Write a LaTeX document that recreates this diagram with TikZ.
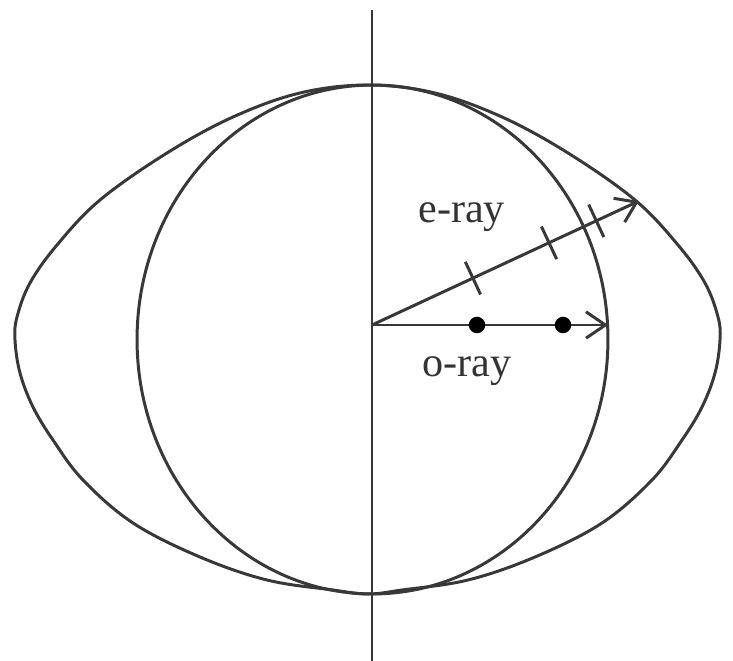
\documentclass[tikz,border=0pt]{standalone}
\usepackage{fontspec}
\setmainfont{Liberation Serif}
\usetikzlibrary{arrows.meta,calc}
\begin{document}
\begin{tikzpicture}[x=0.02cm,y=-0.02cm,
  ln/.style={line width=1.7pt,draw=black!78},
  ray/.style={ln,-{Straight Barb[length=11pt,width=15pt,line width=1.7pt]}},
  tick/.style={ln},
  dot/.style={circle,fill=black,inner sep=0pt,minimum size=0.33cm},
  lbl/.style={anchor=base west,inner sep=0pt,text=black!80,font=\fontsize{24}{28}\selectfont}]
\useasboundingbox (0,0) rectangle (733,661);
% axis
\coordinate (top) at (372,10);
\coordinate (bot) at (372,661);
\draw[ln] (top) -- (bot);
% o-wave surface (circle)
\draw[ln] (372.5,339.5) ellipse [x radius=4.71cm, y radius=5.09cm];
% e-wave surface
\draw[ln] plot[smooth cycle,tension=0.6] coordinates {
 (368,85) (300,93) (233,117) (167,153) (100,200) (57,245) (30,283) (17,317) (15,340)
 (20,373) (33,407) (53,440) (83,480) (133,523) (200,557) (267,580) (333,590) (368,594)
 (402,590) (468,580) (535,557) (602,523) (652,480) (682,440) (702,407) (715,373)
 (720,340) (718,317) (705,283) (678,245) (635,200) (568,153) (502,117) (435,93)};
% rays
\coordinate (O) at (372,325);
\coordinate (E) at (639,201);
\coordinate (Oe) at (608,325);
\draw[ray] (O) -- (E);
\draw[ray] (O) -- (Oe);
\draw[tick] ($(O)!0.378!(E)$) +(-7.6,-16.3) -- +(7.6,16.3);
\draw[tick] ($(O)!0.663!(E)$) +(-7.6,-16.3) -- +(7.6,16.3);
\draw[tick] ($(O)!0.840!(E)$) +(-7.6,-16.3) -- +(7.6,16.3);
\node[dot] (d1) at (477,325) {};
\node[dot] (d2) at (563,325) {};
\node[lbl] (el) at (418,223) {e-ray};
\node[lbl] (ol) at (422,377) {o-ray};
\end{tikzpicture}
\end{document}
